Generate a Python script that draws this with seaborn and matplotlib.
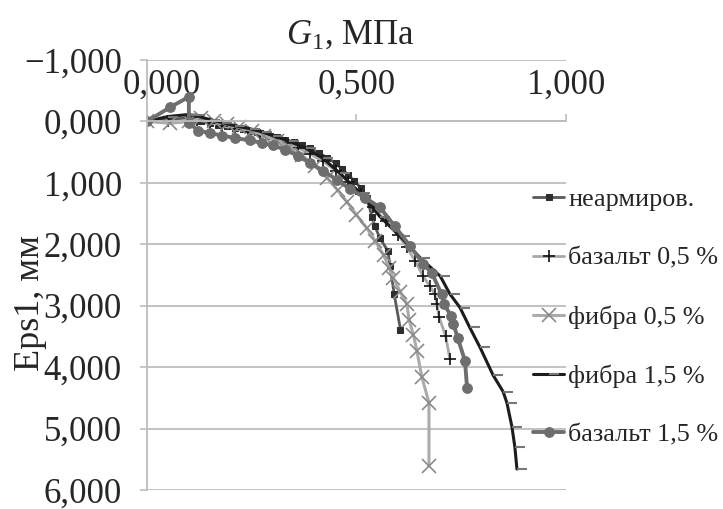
import numpy as np
import pandas as pd
import seaborn as sns
from matplotlib import pyplot as plt
from matplotlib import transforms
from matplotlib.ticker import FuncFormatter, FixedLocator

# Data (G1 in MPa, Eps1 in mm)
neam_x = [0.000, 0.050, 0.100, 0.110, 0.130, 0.150, 0.170, 0.190, 0.210, 0.230, 0.250, 0.270, 0.290, 0.310,
          0.330, 0.350, 0.370, 0.390, 0.410, 0.430, 0.450, 0.465, 0.480, 0.495, 0.510, 0.525, 0.537, 0.544,
          0.556, 0.575, 0.580, 0.590, 0.605]
neam_y = [0.000, -0.030, -0.060, -0.040, -0.010, 0.020, 0.050, 0.080, 0.100, 0.130, 0.160, 0.190, 0.220, 0.260,
          0.300, 0.340, 0.390, 0.440, 0.510, 0.590, 0.680, 0.770, 0.870, 0.970, 1.080, 1.250, 1.550, 1.710,
          1.900, 2.110, 2.350, 2.810, 3.390]

bas05_x = [0.000, 0.050, 0.100, 0.120, 0.150, 0.180, 0.210, 0.240, 0.270, 0.300, 0.330, 0.360, 0.390, 0.420,
           0.450, 0.480, 0.510, 0.540, 0.570, 0.600, 0.620, 0.640, 0.659, 0.675, 0.687, 0.692, 0.697, 0.713, 0.723]
bas05_y = [0.000, 0.000, 0.000, -0.030, 0.020, 0.070, 0.120, 0.170, 0.220, 0.280, 0.350, 0.430, 0.530, 0.650,
           0.800, 0.980, 1.180, 1.400, 1.620, 1.850, 2.050, 2.270, 2.520, 2.680, 2.810, 2.980, 3.180, 3.500, 3.870]

fib05_x = [0.000, 0.055, 0.100, 0.130, 0.160, 0.190, 0.220, 0.250, 0.280, 0.310, 0.340, 0.370, 0.400, 0.430,
           0.455, 0.477, 0.500, 0.525, 0.545, 0.565, 0.578, 0.588, 0.605, 0.620, 0.626, 0.636, 0.644, 0.656,
           0.673, 0.673]
fib05_y = [0.000, 0.030, 0.000, -0.050, -0.010, 0.040, 0.090, 0.150, 0.230, 0.320, 0.420, 0.550, 0.720, 0.920,
           1.120, 1.310, 1.520, 1.740, 1.950, 2.180, 2.380, 2.550, 2.780, 2.970, 3.240, 3.480, 3.730, 4.160,
           4.580, 5.610]

fib15_x = [0.000, 0.050, 0.095, 0.115, 0.150, 0.180, 0.210, 0.246, 0.275, 0.300, 0.340, 0.380, 0.420, 0.460,
           0.508, 0.556, 0.604, 0.652, 0.700, 0.723, 0.747, 0.770, 0.795, 0.826, 0.850, 0.859, 0.871, 0.878, 0.883]
fib15_y = [0.000, -0.080, -0.110, -0.100, -0.030, 0.020, 0.070, 0.120, 0.170, 0.230, 0.320, 0.440, 0.600, 0.840,
           1.160, 1.550, 1.870, 2.220, 2.520, 2.810, 3.030, 3.350, 3.680, 4.130, 4.400, 4.580, 4.970, 5.300, 5.660]

bas15_x = [0.000, 0.055, 0.100, 0.100, 0.122, 0.150, 0.180, 0.210, 0.246, 0.275, 0.300, 0.330, 0.360, 0.390,
           0.420, 0.453, 0.485, 0.520, 0.556, 0.592, 0.628, 0.659, 0.680, 0.703, 0.709, 0.725, 0.731, 0.742,
           0.759, 0.764]
bas15_y = [0.000, -0.230, -0.400, 0.020, 0.150, 0.190, 0.230, 0.270, 0.310, 0.350, 0.390, 0.460, 0.560, 0.680,
           0.800, 0.950, 1.100, 1.240, 1.400, 1.710, 2.030, 2.320, 2.470, 2.810, 2.970, 3.160, 3.290, 3.530,
           3.900, 4.340]

labels = ['неармиров.', 'базальт 0,5 %', 'фибра 0,5 %', 'фибра 1,5 %', 'базальт 1,5 %']

sns.set_style('white')
plt.rcParams['font.family'] = ['Liberation Serif', 'DejaVu Serif']
plt.rcParams['mathtext.fontset'] = 'custom'
plt.rcParams['mathtext.rm'] = 'Liberation Serif'
plt.rcParams['mathtext.it'] = 'Liberation Serif:italic'

fig = plt.figure(figsize=(7.23, 5.09), dpi=100)
ax = fig.add_axes([0.2033, 0.0374, 0.5795, 0.8447])

grid_col = '#bdbdbd'

sns.lineplot(x=neam_x, y=neam_y, ax=ax, sort=False, estimator=None, color='#5a5a5a', lw=2,
             marker='s', markersize=4.5, markerfacecolor='#2e2e2e', markeredgecolor='#2e2e2e', label=labels[0])
sns.lineplot(x=bas05_x, y=bas05_y, ax=ax, sort=False, estimator=None, color='#a8a8a8', lw=2,
             marker='+', markersize=9, markeredgecolor='#111111', markeredgewidth=1.2, label=labels[1])
sns.lineplot(x=fib05_x, y=fib05_y, ax=ax, sort=False, estimator=None, color='#aaaaaa', lw=2.2,
             marker='x', markersize=10, markeredgecolor='#8a8a8a', markeredgewidth=1.2, label=labels[2])
sns.lineplot(x=fib15_x, y=fib15_y, ax=ax, sort=False, estimator=None, color='#1c1c1c', lw=2.2,
             marker=1, markersize=7, markeredgecolor='#777777', markeredgewidth=1.5, label=labels[3])
sns.lineplot(x=bas15_x, y=bas15_y, ax=ax, sort=False, estimator=None, color='#6e6e6e', lw=2.8,
             marker='o', markersize=7, markerfacecolor='#6e6e6e', markeredgecolor='#6e6e6e', label=labels[4])

ax.set_xlim(0, 1.0)
ax.set_ylim(6, -1)
ax.xaxis.set_major_locator(FixedLocator([0.0, 0.5, 1.0]))
ax.yaxis.set_major_locator(FixedLocator(list(range(-1, 7))))
fmt = FuncFormatter(lambda v, p: f"{v:.3f}".replace('.', ',').replace('-', '\u2212'))
ax.xaxis.set_major_formatter(fmt)
ax.yaxis.set_major_formatter(fmt)

ax.yaxis.grid(True, color=grid_col, lw=1.3)
ax.xaxis.grid(False)

for s in ['right', 'bottom']:
    ax.spines[s].set_visible(False)
ax.spines['top'].set_position(('data', 0))
ax.spines['top'].set_bounds(0, 1)
for s in ['top', 'left']:
    ax.spines[s].set_color(grid_col)
    ax.spines[s].set_linewidth(1.3)

ax.tick_params(axis='x', top=True, labeltop=True, bottom=False, labelbottom=False,
               direction='out', length=5, width=1.2, color=grid_col, pad=9, labelsize=25)
ax.tick_params(axis='y', left=True, direction='out', length=5, width=1.2, color=grid_col, pad=13, labelsize=25)
ax.set_xlabel('')
ax.set_ylabel('')

# nudge the first x label right, like the original does
first = ax.xaxis.get_major_ticks()[0].label2
first.set_transform(first.get_transform() + transforms.ScaledTranslation(0.15, 0, fig.dpi_scale_trans))

fig.text(0.484, 0.915, r'$G_1$, МПа', fontsize=25, ha='center', va='baseline')
fig.text(0.042, 0.405, 'Eps1, мм', fontsize=26, rotation=90, ha='center', va='center')

ax.get_legend().remove()
handles, labs = ax.get_legend_handles_labels()
fig.legend(handles, labs, loc='center left', bbox_to_anchor=(0.737, 0.377), frameon=False,
           fontsize=18.8, labelspacing=1.36, handlelength=1.2, handletextpad=0.15, borderpad=0,
           borderaxespad=0)

fig.savefig('out.png', dpi=100)
